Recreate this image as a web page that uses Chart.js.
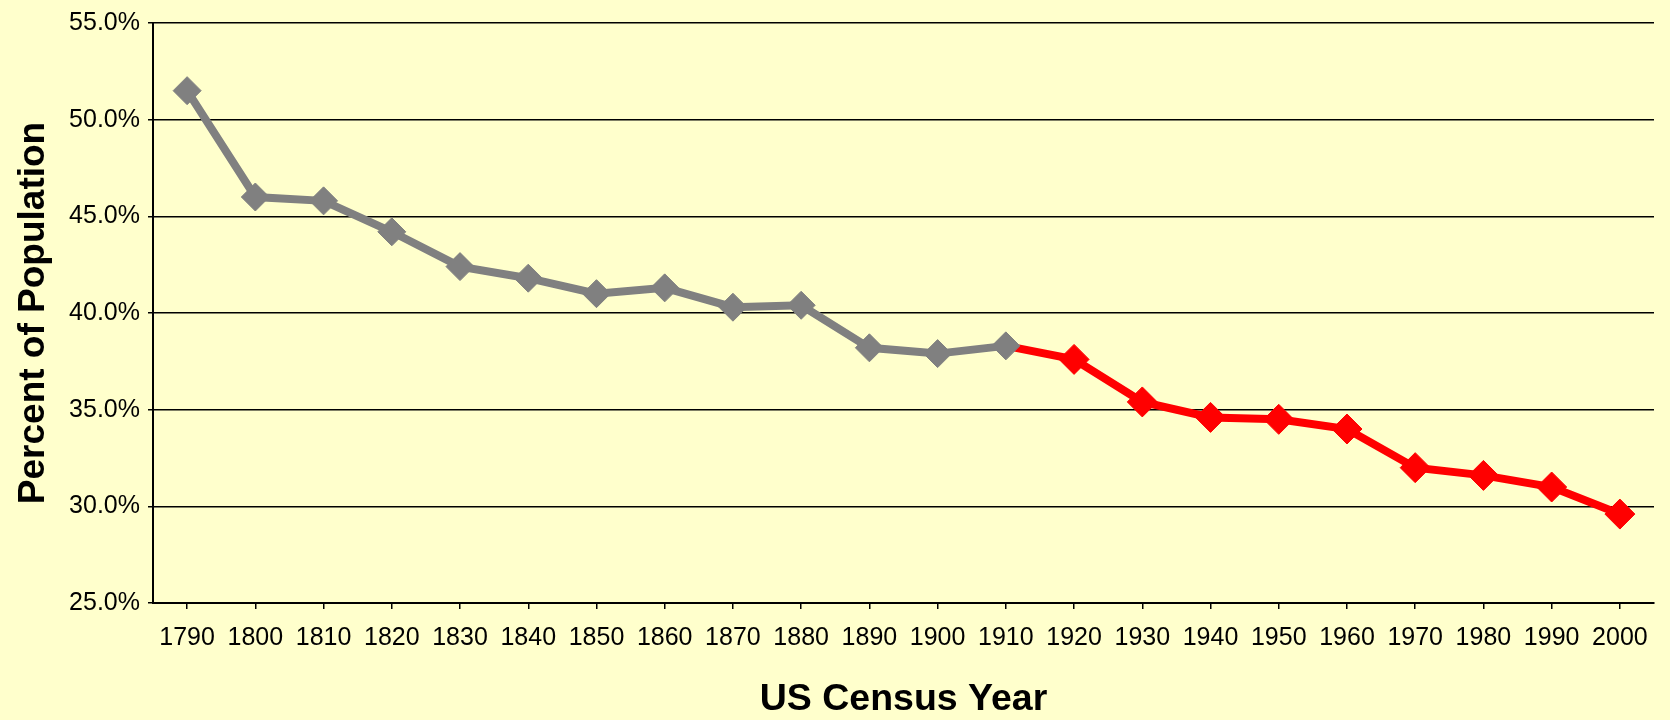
<!DOCTYPE html>
<html>
<head>
<meta charset="utf-8">
<script src="https://cdn.jsdelivr.net/npm/chart.js@4/dist/chart.umd.min.js"></script>
<style>
  html, body { margin: 0; padding: 0; background: #ffffcc; }
  #wrap { width: 1670px; height: 720px; }
</style>
</head>
<body>
<div id="wrap"><canvas id="census"></canvas></div>
<script>
var years = ['1790', '1800', '1810', '1820', '1830', '1840', '1850', '1860', '1870', '1880', '1890',
             '1900', '1910', '1920', '1930', '1940', '1950', '1960', '1970', '1980', '1990', '2000'];

// percent of population
var earlyValues = [51.5, 46.0, 45.8, 44.2, 42.4, 41.8, 41.0, 41.3, 40.3, 40.4, 38.2, 37.9, 38.3,
                   null, null, null, null, null, null, null, null, null];
var laterValues = [null, null, null, null, null, null, null, null, null, null, null, null, 38.3,
                   37.6, 35.4, 34.6, 34.5, 34.0, 32.0, 31.6, 31.0, 29.6];

var yTicks = [25, 30, 35, 40, 45, 50, 55];

Chart.defaults.font.family = "'Liberation Sans', Arial, sans-serif";
Chart.defaults.color = '#000';

var datasets = [
  {
    label: '1790-1910',
    data: earlyValues,
    order: 0,
    borderColor: '#808080',
    backgroundColor: '#808080',
    borderWidth: 8,
    pointStyle: 'rectRot',
    pointRadius: 14,
    pointBorderWidth: 1,
    pointBackgroundColor: '#808080',
    pointBorderColor: '#808080',
  },
  {
    label: '1910-2000',
    data: laterValues,
    order: 1,
    borderColor: '#ff0000',
    backgroundColor: '#ff0000',
    borderWidth: 8,
    pointStyle: 'rectRot',
    // the shared 1910 point keeps the grey marker
    pointRadius: function (c) { return earlyValues[c.dataIndex] != null ? 0 : 15; },
    pointBorderWidth: 1,
    pointBackgroundColor: '#ff0000',
    pointBorderColor: '#ff0000',
  },
];

var ctx = document.getElementById('census').getContext('2d');
var myChart = new Chart(ctx, {
  type: 'line',
  data: {
    labels: years,
    datasets: datasets,
  },
  options: {
    responsive: true,
    maintainAspectRatio: false,
    animation: false,
    events: [],
    layout: {
      padding: { top: 21, right: 6, left: 0, bottom: 0 },
    },
    plugins: {
      legend: { display: false },
      tooltip: { enabled: false },
    },
    scales: {
      x: {
        offset: true,
        grid: {
          drawOnChartArea: false,
          drawTicks: true,
          tickLength: 6,
          color: '#000',
          lineWidth: 1.5,
        },
        border: { color: '#000', width: 2 },
        ticks: {
          font: { size: 25 },
          padding: 14,
          maxRotation: 0,
          autoSkip: false,
        },
        title: {
          display: true,
          text: 'US Census Year',
          font: { size: 37.5, weight: 'bold', lineHeight: 1.1 },
          padding: { top: 0, bottom: 0 },
        },
        afterFit: function (scale) { scale.height = 117; },
      },
      y: {
        min: 25,
        max: 55,
        afterBuildTicks: function (scale) {
          scale.ticks = yTicks.map(function (v) { return { value: v }; });
        },
        grid: {
          color: '#000',
          lineWidth: 1.5,
          tickLength: 5,
        },
        border: { color: '#000', width: 2 },
        ticks: {
          font: { size: 25 },
          padding: 8,
          callback: function (v) { return v.toFixed(1) + '%'; },
        },
        title: {
          display: true,
          text: 'Percent of Population',
          font: { size: 37, weight: 'bold', lineHeight: 1.1 },
          padding: { top: 13, bottom: 0 },
        },
        afterFit: function (scale) { scale.width = 153; },
      },
    },
  },
});
</script>
</body>
</html>
